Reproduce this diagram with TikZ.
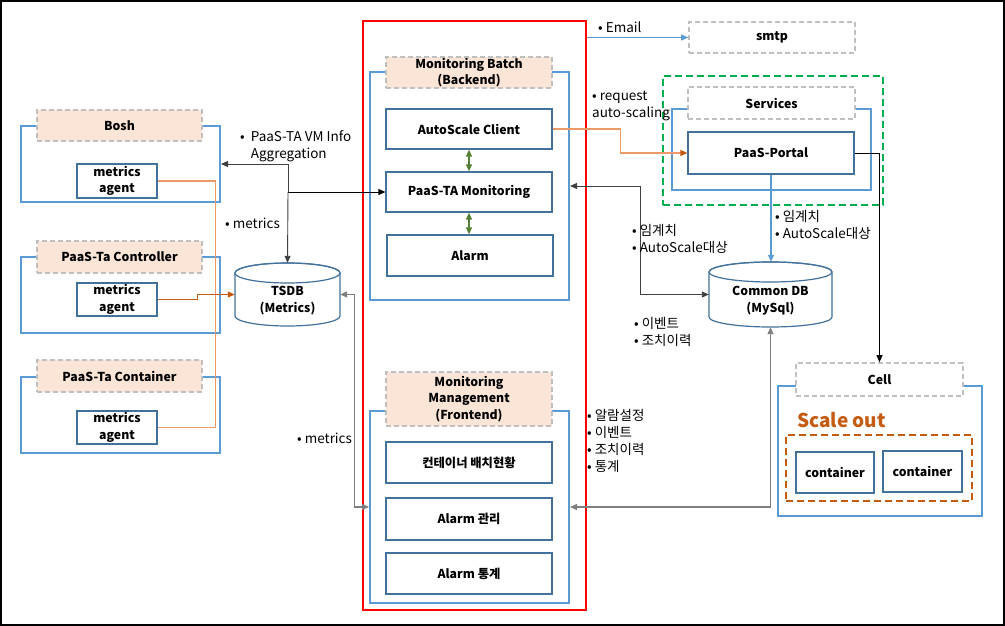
\documentclass[tikz,border=0pt]{standalone}
\usepackage{fontspec}
\setmainfont{Noto Sans CJK KR}
\usetikzlibrary{arrows.meta,calc}
\definecolor{blueO}{HTML}{5B9BD5}
\definecolor{blueI}{HTML}{41719C}
\definecolor{peach}{HTML}{FBE5D6}
\definecolor{grayD}{HTML}{BFBFBF}
\definecolor{greenD}{HTML}{00B050}
\definecolor{orangeD}{HTML}{C55A11}
\definecolor{orangeL}{HTML}{EC9A68}
\definecolor{greenA}{HTML}{548235}
\definecolor{grayA}{HTML}{7F7F7F}
\definecolor{grayK}{HTML}{404040}
\begin{document}
\begin{tikzpicture}[x=1pt,y=-1pt,
  outer/.style={draw=blueO, line width=2pt, fill=white, inner sep=0pt},
  lab/.style={draw=grayD, dash pattern=on 5pt off 3pt, line width=1.6pt, fill=peach, font=\bfseries\fontsize{12.3}{16.5}\selectfont, align=center, inner sep=0pt},
  wlab/.style={lab, fill=white},
  inbox/.style={draw=blueI, line width=1.2pt, fill=white, font=\bfseries\fontsize{12.3}{16.5}\selectfont, align=center, inner sep=0pt},
  dbtext/.style={font=\bfseries\fontsize{12.3}{17}\selectfont, align=center, inner sep=0pt},
  note/.style={font=\fontsize{13.5}{17}\selectfont, align=left, anchor=north west, inner sep=0pt},
  tip/.style={-{Triangle[length=7pt,width=6pt]}},
  tips/.style={{Triangle[length=7pt,width=6pt]}-{Triangle[length=7pt,width=6pt]}},
  conn/.style={line width=0.9pt}
]
\useasboundingbox (0,0) rectangle (1005,626);
\draw[black, line width=1.6pt] (1,1) rectangle (1004,625);

% ---------- big frames ----------
\node[draw=red, line width=2pt, minimum width=223pt, minimum height=589pt, inner sep=0pt] (red) at (474.5,315.5) {};
\node[draw=greenD, dash pattern=on 7pt off 4pt, line width=2pt, minimum width=220pt, minimum height=129pt, inner sep=0pt] (green) at (773,140.5) {};

% ---------- left column ----------
\node[outer, minimum width=199pt, minimum height=76pt] (boshO) at (120.5,164) {};
\node[lab, minimum width=165pt, minimum height=31pt] (boshL) at (119.5,125.5) {Bosh};
\node[inbox, minimum width=80pt, minimum height=34pt] (boshA) at (117,181) {metrics\\agent};

\node[outer, minimum width=199pt, minimum height=76pt] (ctrlO) at (120.5,295) {};
\node[lab, minimum width=165pt, minimum height=32pt] (ctrlL) at (119.5,257) {PaaS-Ta Controller};
\node[inbox, minimum width=80pt, minimum height=33pt] (ctrlA) at (117,299.5) {metrics\\agent};

\node[outer, minimum width=199pt, minimum height=76pt] (contO) at (120.5,415) {};
\node[lab, minimum width=165pt, minimum height=32pt] (contL) at (119.5,376) {PaaS-Ta Container};
\node[inbox, minimum width=80pt, minimum height=33pt] (contA) at (117,427.5) {metrics\\agent};

% TSDB cylinder
\draw[draw=blueI, line width=1.2pt, fill=white] (235,273) -- (235,316) arc[start angle=180,end angle=0,x radius=52.5,y radius=10] -- (340,273) arc[start angle=0,end angle=-180,x radius=52.5,y radius=10] -- cycle;
\draw[draw=blueI, line width=1.2pt] (287.5,273) ellipse[x radius=52.5,y radius=10];
\node[inner sep=0pt, minimum width=105pt, minimum height=63pt] (tsdb) at (287.5,294.5) {};
\node[dbtext] (tsdbT) at (287.5,301) {TSDB\\(Metrics)};

% ---------- middle ----------
\node[outer, minimum width=199pt, minimum height=228pt] (batchO) at (469.5,186) {};
\node[lab, minimum width=166pt, minimum height=31pt] (batchL) at (469,72.5) {Monitoring Batch\\[-1pt](Backend)};
\node[inbox, minimum width=166pt, minimum height=40pt] (asc) at (469,129) {AutoScale Client};
\node[inbox, minimum width=166pt, minimum height=40pt] (ptm) at (469,192) {PaaS-TA Monitoring};
\node[inbox, minimum width=166pt, minimum height=41pt] (alarm) at (470,255.5) {Alarm};

\node[outer, minimum width=199pt, minimum height=192pt] (mgmtO) at (469.5,507) {};
\node[lab, minimum width=166pt, minimum height=54pt] (mgmtL) at (469,399) {Monitoring\\Management\\(Frontend)};
\node[inbox, minimum width=166pt, minimum height=41pt] (cdp) at (469,462.5) {컨테이너 배치현황};
\node[inbox, minimum width=166pt, minimum height=42pt] (amg) at (469,519) {Alarm 관리};
\node[inbox, minimum width=166pt, minimum height=41pt] (ast) at (469,573.5) {Alarm 통계};

% ---------- right ----------
\node[wlab, minimum width=166pt, minimum height=31pt] (smtp) at (772,37.5) {smtp};
\node[outer, minimum width=199pt, minimum height=81pt] (svcO) at (771.5,149.5) {};
\node[wlab, minimum width=167pt, minimum height=32pt] (svcL) at (771.5,103) {Services};
\node[inbox, minimum width=166pt, minimum height=42pt] (portal) at (771,153) {PaaS-Portal};

% Common DB cylinder
\draw[draw=blueI, line width=1.2pt, fill=white] (709,272) -- (709,317) arc[start angle=180,end angle=0,x radius=61.5,y radius=10] -- (832,272) arc[start angle=0,end angle=-180,x radius=61.5,y radius=10] -- cycle;
\draw[draw=blueI, line width=1.2pt] (770.5,272) ellipse[x radius=61.5,y radius=10];
\node[inner sep=0pt, minimum width=123pt, minimum height=65pt] (cdb) at (770.5,294.5) {};
\node[dbtext] (cdbT) at (770.5,301) {Common DB\\(MySql)};

\node[outer, minimum width=204pt, minimum height=130pt] (cellO) at (880,451) {};
\node[wlab, minimum width=167pt, minimum height=33pt] (cellL) at (879.5,379.5) {Cell};
\node[font=\bfseries\fontsize{19}{22}\selectfont, text=orangeD, anchor=west, inner sep=0pt] (so) at (797,420) {Scale out};
\node[draw=orangeD, dash pattern=on 7pt off 4pt, line width=2pt, minimum width=186pt, minimum height=66pt, inner sep=0pt] (soBox) at (879,468) {};
\node[inbox, minimum width=78pt, minimum height=41pt] (c1) at (835,472.5) {container};
\node[inbox, minimum width=79pt, minimum height=41pt] (c2) at (922.5,471.5) {container};

% ---------- connectors ----------
\coordinate (j) at (288,192);
\draw[conn, black, tip] (j) -- (ptm.west);
\draw[conn, grayK, tip] (j) |- (boshO.east);
\draw[conn, grayK, tip] (j) -- (tsdb.north);

\draw[line width=1.2pt, orangeL] (boshA.east) -- ++(58,0) |- (contA.east);
\draw[line width=1.2pt, orangeD, tip] (ctrlA.east) -- ++(40,0) |- (tsdb.west);

\draw[line width=1.3pt, grayA, tips] (tsdb.east) -- ++(14,0) |- (mgmtO.west);

\draw[line width=1.5pt, greenA, tips] (asc.south) -- (ptm.north);
\draw[line width=1.5pt, greenA, tips] (ptm.south) -- (ptm.south |- alarm.north);

\draw[conn, blueO, tip] (red.east |- smtp.west) -- (smtp.west);
\draw[line width=1.2pt, orangeL, -{Triangle[length=7pt,width=6pt,color=orangeD]}] (asc.east) -- ++(68,0) |- (portal.west);
\draw[line width=1.1pt, blueO, tip] (portal.south) -- (portal.south |- cdb.north);
\draw[conn, black, tip] (portal.east) -| (cellL.north);
\draw[conn, grayK, tips] (batchO.east) -- ++(70,0) |- (cdb.west);
\draw[line width=1.3pt, grayA, tips] (cdb.south) |- (mgmtO.east);

% ---------- labels ----------
\node[note] (n1) at (240,130) {•~~PaaS-TA VM Info\\\phantom{•~~}Aggregation};
\node[note] (n2) at (225,218) {•~metrics};
\node[note] (n3) at (297,433) {•~metrics};
\node[note] (n4) at (598,22) {•~Email};
\node[note] (n5) at (592,90.5) {•~request\\auto-scaling};
\node[note] (n6) at (632,224) {•~임계치\\•~AutoScale대상};
\node[note] (n7) at (775,210) {•~임계치\\•~AutoScale대상};
\node[note] (n8) at (634,317) {•~이벤트\\•~조치이력};
\node[note] (n9) at (587,409.5) {•~알람설정\\•~이벤트\\•~조치이력\\•~통계};
\end{tikzpicture}
\end{document}
